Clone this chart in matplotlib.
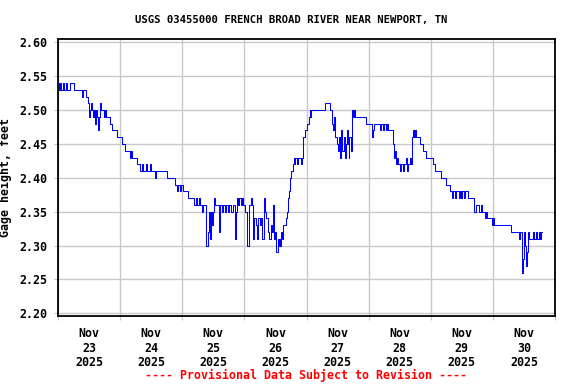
import pandas as pd
import matplotlib
matplotlib.use("Agg")
import matplotlib.pyplot as plt

# Gage height readings (hours after 2025-11-23 00:00, feet)
hours = [0.0, 0.4, 0.8, 1.2, 1.9, 2.3, 3.1, 3.5, 3.9, 4.6, 5.0, 6.2, 9.3, 9.7, 10.8,
         11.6, 12.0, 12.4, 12.8, 13.2, 13.5, 13.9, 14.3, 14.7, 15.1, 15.5, 15.9, 16.3,
         16.6, 17.8, 18.2, 18.6, 20.1, 20.9, 22.8, 24.8, 25.9, 27.9, 28.3, 28.6, 30.6,
         31.7, 32.5, 32.9, 34.1, 34.5, 35.6, 36.0, 37.5, 37.9, 42.2, 45.3, 46.1, 46.5,
         47.2, 47.6, 48.4, 50.3, 52.6, 53.4, 53.8, 54.6, 55.0, 55.7, 56.1, 57.3, 58.1,
         58.5, 58.8, 59.2, 59.6, 60.0, 60.4, 60.8, 62.3, 62.7, 63.5, 63.9, 64.6, 65.0,
         65.8, 66.2, 67.0, 67.7, 68.5, 68.9, 69.3, 69.7, 70.1, 70.8, 71.2, 71.6, 72.4,
         73.2, 73.9, 74.7, 75.1, 75.5, 75.9, 76.6, 77.0, 77.4, 78.2, 78.6, 79.0, 79.4,
         79.7, 80.1, 80.5, 81.3, 81.7, 82.1, 82.5, 83.2, 83.6, 84.0, 84.4, 84.8, 85.2,
         85.5, 85.9, 86.3, 86.7, 87.1, 87.9, 88.6, 89.0, 89.4, 89.8, 90.2, 90.6, 91.0,
         91.4, 91.7, 92.5, 92.9, 93.7, 94.1, 94.5, 94.8, 95.6, 96.0, 96.8, 97.2, 97.5,
         97.9, 103.0, 104.9, 105.7, 106.1, 106.5, 107.2, 107.6, 108.0, 108.4, 108.8,
         109.2, 109.5, 109.9, 110.3, 110.7, 111.1, 111.5, 111.9, 112.3, 112.6, 113.0,
         113.4, 113.8, 114.2, 114.6, 118.8, 121.2, 121.5, 121.9, 124.3, 124.6, 125.4,
         125.8, 126.6, 127.0, 127.4, 129.3, 129.7, 130.1, 130.5, 130.8, 131.2, 132.0,
         132.4, 133.2, 133.5, 134.3, 134.7, 135.1, 135.9, 136.3, 136.6, 137.0, 137.4,
         137.8, 138.2, 139.7, 140.9, 142.1, 144.8, 145.5, 147.9, 149.8, 151.4, 152.1,
         152.5, 153.3, 153.7, 154.8, 155.2, 155.6, 156.0, 156.8, 157.2, 158.3, 160.6,
         161.4, 162.6, 163.4, 163.7, 164.9, 165.3, 165.7, 167.6, 168.0, 168.4, 174.9,
         178.1, 178.5, 179.2, 179.6, 180.0, 180.4, 180.8, 181.2, 181.5, 181.9, 183.5,
         183.9, 184.6, 185.0, 185.8, 186.2, 186.6, 187.0]
stage = [2.54, 2.53, 2.54, 2.53, 2.54, 2.53, 2.54, 2.53, 2.53, 2.54, 2.54, 2.53, 2.52, 2.53, 2.52,
         2.51, 2.49, 2.50, 2.51, 2.50, 2.49, 2.50, 2.48, 2.50, 2.49, 2.47, 2.49, 2.51,
         2.50, 2.49, 2.50, 2.49, 2.48, 2.47, 2.46, 2.45, 2.44, 2.43, 2.44, 2.43, 2.42,
         2.41, 2.42, 2.41, 2.42, 2.41, 2.42, 2.41, 2.40, 2.41, 2.40, 2.39, 2.38, 2.39,
         2.38, 2.39, 2.38, 2.37, 2.36, 2.37, 2.36, 2.37, 2.36, 2.35, 2.36, 2.30, 2.32,
         2.35, 2.31, 2.35, 2.33, 2.35, 2.37, 2.36, 2.32, 2.36, 2.35, 2.36, 2.35, 2.36,
         2.35, 2.36, 2.35, 2.36, 2.31, 2.35, 2.37, 2.36, 2.37, 2.36, 2.37, 2.36, 2.35,
         2.30, 2.36, 2.37, 2.36, 2.31, 2.34, 2.33, 2.31, 2.34, 2.33, 2.34, 2.31, 2.36,
         2.37, 2.35, 2.34, 2.32, 2.31, 2.33, 2.32, 2.36, 2.31, 2.32, 2.29, 2.31, 2.30,
         2.31, 2.30, 2.32, 2.31, 2.33, 2.34, 2.35, 2.37, 2.38, 2.40, 2.41, 2.42, 2.43,
         2.42, 2.43, 2.42, 2.43, 2.42, 2.43, 2.44, 2.46, 2.47, 2.48, 2.49, 2.50, 2.49,
         2.50, 2.51, 2.50, 2.48, 2.47, 2.49, 2.46, 2.45, 2.44, 2.46, 2.43,
         2.45, 2.47, 2.44, 2.46, 2.43, 2.45, 2.47, 2.45, 2.43, 2.46, 2.44,
         2.50, 2.49, 2.50, 2.49, 2.48, 2.46, 2.47, 2.48, 2.47, 2.48, 2.47,
         2.48, 2.47, 2.48, 2.47, 2.45, 2.43, 2.44, 2.42, 2.43, 2.42, 2.41,
         2.42, 2.41, 2.42, 2.43, 2.41, 2.42, 2.43, 2.42, 2.46, 2.47, 2.46,
         2.47, 2.46, 2.45, 2.44, 2.43, 2.42, 2.41, 2.40, 2.39, 2.38, 2.37,
         2.38, 2.37, 2.38, 2.37, 2.38, 2.37, 2.38, 2.37, 2.38, 2.37, 2.35,
         2.36, 2.35, 2.36, 2.35, 2.34, 2.35, 2.34, 2.33, 2.34, 2.33, 2.32,
         2.31, 2.32, 2.26, 2.28, 2.32, 2.30, 2.27, 2.29, 2.32, 2.31, 2.32,
         2.31, 2.32, 2.31, 2.32, 2.31, 2.32, 2.32]

day_labels = ["Nov\n23\n2025", "Nov\n24\n2025", "Nov\n25\n2025", "Nov\n26\n2025",
              "Nov\n27\n2025", "Nov\n28\n2025", "Nov\n29\n2025", "Nov\n30\n2025"]
y_ticks = [2.20, 2.25, 2.30, 2.35, 2.40, 2.45, 2.50, 2.55, 2.60]

start = pd.Timestamp("2025-11-23")
times = start + pd.to_timedelta(hours, unit="h")

font = "DejaVu Sans Mono"
fig = plt.figure(figsize=(5.76, 3.84), dpi=100)
ax = fig.add_axes([58 / 576, 1 - 316 / 384, 497 / 576, 277 / 384])

ax.plot(times, stage, color="#0000ff", linewidth=0.75, drawstyle="steps-post", zorder=3)

# x axis: grid at midnight, labels at noon
midnights = pd.date_range(start, periods=9, freq="D")
noons = pd.date_range(start + pd.Timedelta(hours=12), periods=8, freq="D")
ax.set_xlim(midnights[0], midnights[-1])
ax.set_xticks(midnights)
ax.set_xticklabels([""] * len(midnights))
ax.set_xticks(noons, minor=True)
ax.set_xticklabels(day_labels, minor=True, fontfamily=font, fontweight="bold",
                   fontsize=8.4, linespacing=1.15)
ax.tick_params(axis="x", which="minor", length=0, pad=8)
ax.tick_params(axis="x", which="major", length=3, color="#c8c8c8")

ax.set_ylim(2.196, 2.605)
ax.set_yticks(y_ticks)
ax.set_yticklabels([f"{v:.2f}" for v in y_ticks], fontfamily=font,
                   fontweight="bold", fontsize=8.4)
ax.tick_params(axis="y", length=3, color="#c8c8c8", pad=5)

ax.grid(True, which="major", color="#c8c8c8", linewidth=1.0)
for s in ax.spines.values():
    s.set_linewidth(1.3)
    s.set_color("black")

ax.set_ylabel("Gage height, feet", fontfamily=font, fontweight="bold", fontsize=8.4)
ax.yaxis.set_label_coords(-46 / 497, 0.5)

fig.text(0.506, 1 - 20 / 384, "USGS 03455000 FRENCH BROAD RIVER NEAR NEWPORT, TN",
         ha="center", va="center", fontfamily=font, fontweight="bold", fontsize=7.7)
fig.text(306 / 576, 1 - 375 / 384, "---- Provisional Data Subject to Revision ----",
         ha="center", va="center", fontfamily=font, fontweight="bold", fontsize=8.4,
         color="red")

fig.savefig("out.png", dpi=100)
